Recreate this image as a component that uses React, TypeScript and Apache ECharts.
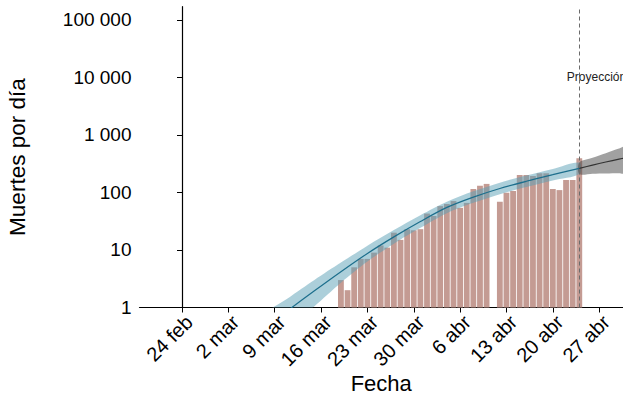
import React, { useEffect, useRef } from 'react';
import * as echarts from 'echarts';

// Day 0 = 24 feb 2020
const ORIGIN = Date.UTC(2020, 1, 24);
const DAY_MS = 86400000;
const dayOf = (iso: string) => (Date.parse(iso + 'T00:00:00Z') - ORIGIN) / DAY_MS;

const tickDates = ['2020-02-24', '2020-03-02', '2020-03-09', '2020-03-16', '2020-03-23', '2020-03-30', '2020-04-06', '2020-04-13', '2020-04-20', '2020-04-27'];
const tickLabels = ['24 feb', '2 mar', '9 mar', '16 mar', '23 mar', '30 mar', '6 abr', '13 abr', '20 abr', '27 abr'];
const yTicks = [1, 10, 100, 1000, 10000, 100000];

const barDates = [
  '2020-03-19', '2020-03-20', '2020-03-21', '2020-03-22', '2020-03-23', '2020-03-24', '2020-03-25',
  '2020-03-26', '2020-03-27', '2020-03-28', '2020-03-29', '2020-03-30', '2020-03-31', '2020-04-01',
  '2020-04-02', '2020-04-03', '2020-04-04', '2020-04-05', '2020-04-06', '2020-04-07', '2020-04-08',
  '2020-04-09', '2020-04-10', '2020-04-11', '2020-04-12', '2020-04-13', '2020-04-14', '2020-04-15',
  '2020-04-16', '2020-04-17', '2020-04-18', '2020-04-19', '2020-04-20', '2020-04-21', '2020-04-22',
  '2020-04-23', '2020-04-24',
];
const deaths: (number | null)[] = [
  3, 2, 5, 7, 7, 9, 12, 11, 20, 15, 23, 22, 23, 43, 39, 58, 63, 71, 54, 66,
  115, 131, 141, null, 69, 99, 106, 202, 202, 194, 216, 216, 115, 110, 165, 165, 393,
];

// Fitted curve (observed period)
const fitDates = ['2020-03-07', '2020-03-11', '2020-03-15', '2020-03-19', '2020-03-23', '2020-03-27', '2020-03-31', '2020-04-04', '2020-04-08', '2020-04-12', '2020-04-16', '2020-04-20', '2020-04-24'];
const fitMid = [0.40, 0.89, 1.95, 4.19, 8.7, 16.9, 31.3, 55.0, 83.2, 117.5, 156.7, 204, 263];
const fitLow = [0.17, 0.42, 1.05, 2.70, 6.3, 12.9, 24.3, 43.7, 66.1, 93.3, 124.5, 162, 209];
const fitHigh = [0.66, 1.45, 3.02, 6.05, 11.9, 22.3, 40.3, 69.2, 104.7, 148, 197, 257, 331];

// Projection
const projDates = ['2020-04-24', '2020-04-26', '2020-04-28', '2020-04-30', '2020-05-01'];
const projMid = [263, 299, 339, 380, 402];
const projLow = [209, 212, 214, 216, 217];
const projHigh = [331, 400, 480, 580, 630];

const projectionStart = '2020-04-24';

const fmtThousands = (v: number) => String(Math.round(v)).replace(/\B(?=(\d{3})+(?!\d))/g, ' ');

function bandSeries(days: number[], low: number[], high: number[], color: string, opacity: number) {
  return {
    type: 'custom',
    silent: true,
    z: 2,
    data: days.map((d, i) => [d, low[i], high[i]]),
    encode: { x: 0, y: [1, 2] },
    renderItem: (params: any, api: any) => {
      if (params.dataIndex !== 0) return null;
      const up = days.map((d, i) => api.coord([d, high[i]]));
      const lo = days.map((d, i) => api.coord([d, low[i]])).reverse();
      const cs = params.coordSys;
      return {
        type: 'polygon',
        shape: { points: up.concat(lo), smooth: 0.3 },
        style: { fill: color, opacity },
        clipPath: { type: 'rect', shape: { x: cs.x, y: cs.y, width: cs.width, height: cs.height } },
      };
    },
  };
}

export default function App() {
  const ref = useRef<HTMLDivElement>(null);
  useEffect(() => {
    if (!ref.current) return;
    const chart = echarts.init(ref.current, null, { renderer: 'svg' });
    const tickDays = tickDates.map(dayOf);
    const fd = fitDates.map(dayOf);
    const pd = projDates.map(dayOf);
    const bars = barDates
      .map((d, i) => [dayOf(d), deaths[i]])
      .filter((p) => p[1] != null);

    const option: any = {
      animation: false,
      textStyle: { fontFamily: 'Liberation Sans, Arial, sans-serif' },
      grid: { left: 139.5, right: 0, top: 6.7, bottom: 91.5, containLabel: false, outerBoundsMode: 'none' },
      xAxis: {
        type: 'value',
        min: -6.42,
        max: 66.6,
        name: 'Fecha',
        nameLocation: 'middle',
        nameGap: 65,
        nameMoveOverlap: false,
        nameTextStyle: { fontSize: 22, color: '#000' },
        splitLine: { show: false },
        axisLine: { show: true, lineStyle: { color: '#000', width: 1.2 } },
        axisTick: { show: true, customValues: tickDays, length: 5, lineStyle: { color: '#000' } },
        axisLabel: {
          customValues: tickDays,
          rotate: 45,
          fontSize: 20,
          color: '#000',
          margin: 4,
          verticalAlign: 'top',
          formatter: (v: number) => {
            const i = tickDays.findIndex((t) => Math.abs(t - v) < 1e-6);
            return i >= 0 ? tickLabels[i] : '';
          },
        },
      },
      yAxis: {
        type: 'log',
        logBase: 10,
        min: 1,
        max: 170000,
        name: 'Muertes por día',
        nameLocation: 'middle',
        nameRotate: 90,
        nameGap: 111,
        nameMoveOverlap: false,
        nameTextStyle: { fontSize: 22.5, color: '#000' },
        splitLine: { show: false },
        axisLine: { show: true, lineStyle: { color: '#000', width: 1.2 } },
        axisTick: { show: true, customValues: yTicks, length: 5, lineStyle: { color: '#000' } },
        axisLabel: { customValues: yTicks, fontSize: 19, color: '#000', margin: 8, formatter: (v: number) => fmtThousands(v) },
      },
      series: [
        {
          name: 'Muertes',
          type: 'bar',
          barWidth: 5.8,
          itemStyle: { color: '#c49b93' },
          data: bars,
          z: 1,
        },
        bandSeries(fd, fitLow, fitHigh, '#5aa0b6', 0.5),
        bandSeries(pd, projLow, projHigh, '#444444', 0.5),
        {
          name: 'Ajuste',
          type: 'line',
          smooth: 0.3,
          symbol: 'none',
          lineStyle: { color: '#1c6e8c', width: 1.2 },
          data: fd.map((d, i) => [d, fitMid[i]]),
          z: 3,
        },
        {
          name: 'Proyección',
          type: 'line',
          smooth: 0.3,
          symbol: 'none',
          lineStyle: { color: '#333333', width: 1.2 },
          data: pd.map((d, i) => [d, projMid[i]]),
          z: 3,
          markLine: {
            silent: true,
            symbol: ['none', 'none'],
            label: { show: false },
            lineStyle: { color: '#6b6b6b', type: [4, 3], width: 1 },
            data: [{ xAxis: dayOf(projectionStart) }],
          },
          markPoint: {
            silent: true,
            symbolSize: 0,
            label: { show: true, position: 'inside', formatter: 'Proyección', fontSize: 12, color: '#222' },
            data: [{ coord: [dayOf(projectionStart) + 2.6, 10000] }],
          },
        },
      ],
    };
    chart.setOption(option);
    return () => chart.dispose();
  }, []);
  return <div ref={ref} style={{ position: 'absolute', left: 0, top: 0, width: 623, height: 399 }} />;
}
